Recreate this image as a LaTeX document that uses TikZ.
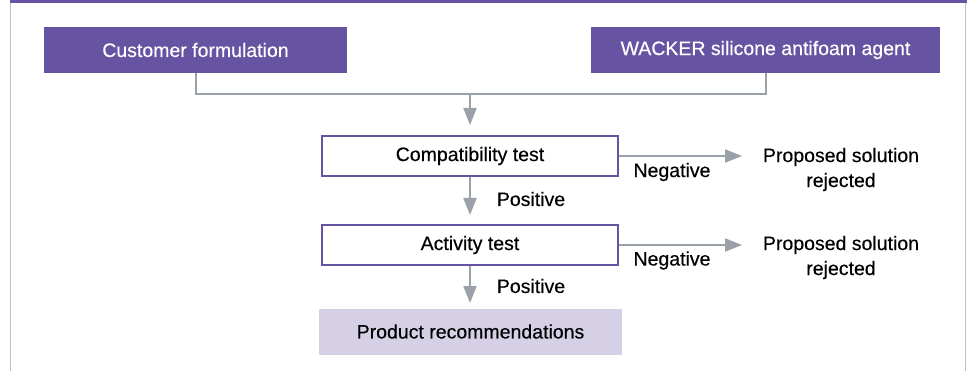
\documentclass[tikz,border=0pt]{standalone}
\usepackage{fontspec}
\setmainfont{Liberation Sans}
\newfontfamily\mediumfont{Liberation Sans}[FakeBold=0.35]
\usetikzlibrary{arrows.meta}
\definecolor{wpurple}{HTML}{6654A3}
\definecolor{wlilac}{HTML}{D6D0E6}
\definecolor{wgray}{HTML}{9BA1A8}
\definecolor{wframe}{HTML}{B9C0CA}
\tikzset{
  body font/.style={font=\mediumfont\fontsize{19.5}{25}\selectfont},
  solid box/.style={rectangle, fill=wpurple, text=white, inner sep=0pt,
    minimum height=46pt, body font},
  test box/.style={rectangle, draw=wpurple, line width=2pt, fill=white, inner sep=0pt,
    minimum width=296pt, minimum height=40pt, body font},
  result box/.style={rectangle, fill=wlilac, inner sep=0pt,
    minimum width=303pt, minimum height=46pt, body font},
  label text/.style={inner sep=0pt, body font, align=center},
  flow/.style={draw=wgray, line width=2pt},
  flow arrow/.style={flow, -{Triangle[length=17pt, width=13pt]}},
}
\begin{document}
\begin{tikzpicture}[x=1pt, y=-1pt]
  \useasboundingbox (0,0) rectangle (973,371);
  % frame
  \draw[wframe, line width=1.5pt] (10.5,0) -- (10.5,371);
  \draw[wframe, line width=1.5pt] (965.5,0) -- (965.5,371);
  \fill[wpurple] (10,0) rectangle (966.5,3);

  % source boxes
  \node[solid box, minimum width=303pt] (cust) at (195.5,50) {Customer formulation};
  \node[solid box, minimum width=349pt] (wack) at (765.5,50) {WACKER silicone antifoam agent};

  % tests
  \node[test box] (compat) at (470,156) {Compatibility test};
  \node[test box] (activ) at (470,245) {Activity test};
  \node[result box] (prod) at (470.5,331.5) {Product recommendations};

  % outcomes
  \node[label text] (rej1) at (841,169.5) {Proposed solution\\rejected};
  \node[label text] (rej2) at (841,257.5) {Proposed solution\\rejected};
  \coordinate (rej1w) at (742,156);
  \coordinate (rej2w) at (742,245);

  % merge of the two sources
  \coordinate (merge) at (470,94);
  \draw[flow] (cust.south) |- (merge) -| (wack.south);
  \coordinate (top) at (470,125);
  \draw[flow arrow] (merge) -- (top);

  % downward path
  \coordinate (c2a) at (470,215);
  \draw[flow arrow] (compat.south) -- (c2a);
  \coordinate (a2p) at (470,303);
  \draw[flow arrow] (activ.south) -- (a2p);

  % rejections
  \draw[flow arrow] (compat.east) -- (rej1w);
  \draw[flow arrow] (activ.east) -- (rej2w);

  % edge labels
  \node[label text] (neg1) at (672,172) {Negative};
  \node[label text] (neg2) at (672,260.5) {Negative};
  \node[label text] (pos1) at (531,199) {Positive};
  \node[label text] (pos2) at (531,286) {Positive};
\end{tikzpicture}
\end{document}
